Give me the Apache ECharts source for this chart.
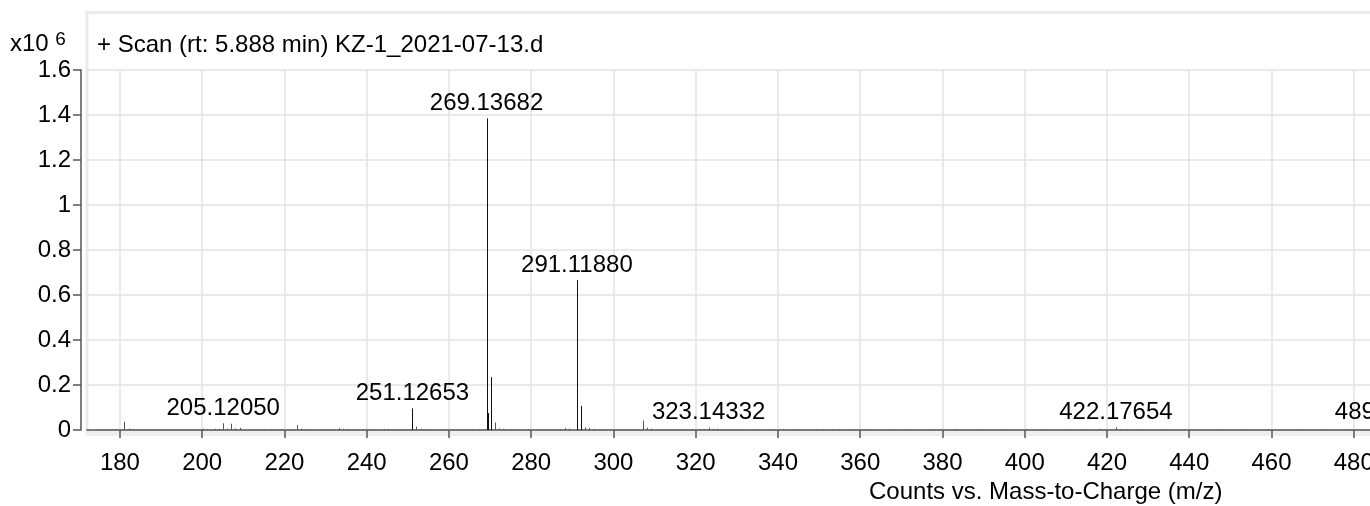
<!DOCTYPE html>
<html>
<head>
<meta charset="utf-8">
<script src="https://cdn.jsdelivr.net/npm/echarts@6/dist/echarts.min.js"></script>
<style>
html,body{margin:0;padding:0;background:#fff;}
#chart{width:1370px;height:506px;}
</style>
</head>
<body>
<div id="chart"></div>
<script>
// ---- DATA ----
var titleText = '+ Scan (rt: 5.888 min) KZ-1_2021-07-13.d';
var xAxisName = 'Counts vs. Mass-to-Charge (m/z)';
var xTicks = [180, 200, 220, 240, 260, 280, 300, 320, 340, 360, 380, 400, 420, 440, 460, 480, 500];
var yTicks = [0, 200000, 400000, 600000, 800000, 1000000, 1200000, 1400000, 1600000];

// main peaks (m/z, counts)
var peakMz = [181.1, 205.12050, 207.1, 209.1, 223.1, 233.2, 251.12653, 252.1, 269.13682, 269.4, 270.14, 271.14,
              288.2, 291.11880, 292.12, 293.12, 307.13, 308.1, 323.14332, 324.1, 400.2, 422.17654, 423.2, 489.2];
var peakInt = [37000, 30000, 28000, 9000, 22000, 8000, 96000, 15000, 1385000, 75000, 235000, 33000,
               8000, 667000, 107000, 12000, 42000, 10000, 10000, 5000, 4000, 12000, 4000, 10000];

// small noise peaks along baseline (m/z, counts)
var noiseMz = [174.2, 176.1, 177.3, 178.9, 182.1, 183.2, 185.1, 187.0, 189.1, 191.2, 193.1, 195.2, 197.1, 199.1,
               200.1, 201.2, 203.1, 204.1, 206.1, 208.1, 211.1, 213.2, 215.1, 217.1, 219.2, 221.1, 224.1, 226.2,
               229.1, 231.1, 234.2, 235.1, 237.2, 239.1, 242.1, 244.2, 245.1, 247.1, 249.2, 253.1, 255.2, 258.1,
               261.1, 263.2, 265.1, 267.2, 272.1, 273.2, 275.1, 277.1, 279.2, 281.1, 283.2, 285.1, 287.1, 289.1,
               294.1, 295.2, 297.1, 299.1, 301.2, 303.1, 305.2, 309.1, 311.2, 313.1, 315.1, 317.2, 319.1, 321.1,
               322.1, 325.2, 327.1, 329.2, 331.1, 335.2, 338.1, 341.2, 345.1, 349.2, 353.1, 357.2, 362.1, 367.2,
               372.1, 377.2, 383.1, 389.2, 394.1, 405.2, 411.1, 415.2, 418.1, 428.2, 434.1, 440.2, 447.1, 453.2,
               459.1, 466.2, 472.1, 478.2, 484.1];
var noiseInt = [2500, 3000, 2000, 3500, 6000, 4000, 2500, 3000, 2000, 3500, 2500, 3000, 2000, 3000,
                6000, 4000, 5000, 4500, 6000, 7000, 3000, 2500, 3500, 3000, 2500, 3000, 6000, 3500,
                3000, 2500, 5000, 4000, 3000, 2500, 3000, 4500, 5000, 3000, 3500, 6000, 3000, 2500,
                3000, 2500, 3000, 3500, 7000, 5000, 4000, 3000, 3500, 3000, 2500, 3000, 4000, 6000,
                8000, 5000, 4000, 3500, 3000, 2500, 3000, 6000, 3000, 2500, 3000, 2500, 3000, 3500,
                4000, 5000, 3000, 2500, 3000, 3500, 3000, 2500, 3000, 3500, 4000, 3000, 3500, 3000,
                2500, 3000, 3500, 3000, 3000, 3500, 3000, 2500, 5000, 3500, 3000, 3000, 2500, 3000,
                2500, 3000, 2500, 3000, 2500];

// labelled peaks
var labelMz = [205.12050, 251.12653, 269.13682, 291.11880, 323.14332, 422.17654, 489.2];
var labelText = ['205.12050', '251.12653', '269.13682', '291.11880', '323.14332', '422.17654', '489.20513'];

// ---- BUILD ----
var FONT = "'Liberation Sans', Arial, sans-serif";
var FS = 24;
var data = [];
function labelIndexOf(mz) {
  for (var i = 0; i < labelMz.length; i++) if (labelMz[i] === mz) return i;
  return -1;
}
for (var i = 0; i < noiseMz.length; i++) data.push([noiseMz[i], noiseInt[i], -1]);
for (var j = 0; j < peakMz.length; j++) data.push([peakMz[j], peakInt[j], labelIndexOf(peakMz[j])]);

var chart = echarts.init(document.getElementById('chart'), null, {renderer: 'canvas'});
var option = {
  animation: false,
  backgroundColor: '#ffffff',
  textStyle: {fontFamily: FONT},
  title: {
    text: titleText,
    left: 92, top: 28,
    textStyle: {fontFamily: FONT, fontSize: FS, fontWeight: 'normal', color: '#000'}
  },
  grid: {left: 87, top: 70, width: 1349, height: 360, containLabel: false, outerBoundsMode: 'none'},
  xAxis: {
    type: 'value', min: 172, max: 500,
    offset: 9,
    axisLine: {show: true, lineStyle: {color: '#555', width: 1.5}},
    axisTick: {show: true, length: 8, customValues: xTicks, lineStyle: {color: '#555', width: 1.5}},
    axisLabel: {customValues: xTicks, margin: 12, fontSize: FS, color: '#000', fontFamily: FONT},
    splitLine: {show: true, lineStyle: {color: '#e3e3e3', width: 1.5}}
  },
  yAxis: {
    type: 'value', min: 0, max: 1600000, interval: 200000,
    offset: 6,
    axisLine: {show: true, lineStyle: {color: '#555', width: 1.5}},
    axisTick: {show: true, length: 8, lineStyle: {color: '#555', width: 1.5}},
    axisLabel: {margin: 10, fontSize: FS, color: '#000', fontFamily: FONT,
      formatter: function (v) { return String(parseFloat((v / 1e6).toFixed(1))); }},
    splitLine: {show: true, lineStyle: {color: '#e3e3e3', width: 1.5}}
  },
  graphic: [
    {type: 'rect', z: -1, shape: {x: 87, y: 12.5, width: 1400, height: 421}, style: {fill: 'none', stroke: '#ebebeb', lineWidth: 3}},
    {type: 'rect', z: -1, shape: {x: 87, y: 431, width: 1400, height: 5}, style: {fill: '#efefef'}},
    {type: 'text', left: 10, top: 30, style: {
      text: '{a|x10 }{b|6}', font: FS + 'px ' + FONT, fill: '#000',
      rich: {a: {fontSize: FS, fontFamily: FONT, fill: '#000'}, b: {fontSize: 19, fontFamily: FONT, fill: '#000', verticalAlign: 'top', padding: [0, 0, 10, 0]}}
    }},
    {type: 'text', left: 869, top: 480, style: {text: xAxisName, font: FS + 'px ' + FONT, fill: '#000'}}
  ],
  series: [{
    type: 'custom',
    coordinateSystem: 'cartesian2d',
    encode: {x: 0, y: 1},
    clip: false,
    data: data,
    renderItem: function (params, api) {
      var x = api.value(0), y = api.value(1), li = api.value(2);
      var top = api.coord([x, y]);
      var base = api.coord([x, 0]);
      var px = Math.round(top[0]) + 0.5;
      var big = y > 50000;
      var children = [{
        type: 'line',
        shape: {x1: px, y1: base[1], x2: px, y2: top[1]},
        style: {stroke: big ? '#111' : '#555', lineWidth: 1}
      }];
      if (li >= 0) {
        children.push({
          type: 'text',
          style: {text: labelText[li], x: top[0], y: top[1] - 3, align: 'center', verticalAlign: 'bottom',
                  font: FS + 'px ' + FONT, fill: '#000'}
        });
      }
      return {type: 'group', children: children};
    }
  }]
};
chart.setOption(option);
</script>
</body>
</html>
